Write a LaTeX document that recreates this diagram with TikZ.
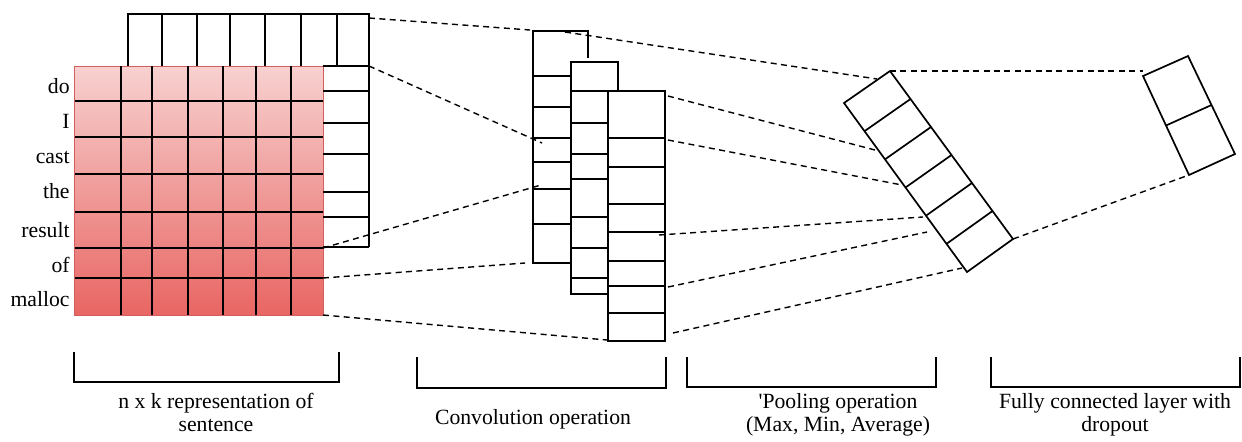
\documentclass[tikz,border=0pt]{standalone}
\usepackage{fontspec}
\setmainfont{Liberation Serif}
\usetikzlibrary{calc}
\definecolor{matTop}{RGB}{247,209,208}
\definecolor{matBot}{RGB}{232,102,99}
\definecolor{matEdge}{RGB}{210,95,92}

\begin{document}
\begin{tikzpicture}[x=0.5pt, y=-0.5pt,
    grid/.style = {line width = 0.85pt},
    link/.style = {dash pattern = on 3pt off 2.2pt, line width = 0.7pt},
    lbl/.style = {font = \fontsize{10.85}{11.5}\selectfont, inner sep = 0pt, align = center}]
    \useasboundingbox (0,0) rectangle (1242,441);
    % sentence matrix
    \coordinate (M) at (74,66);
    \coordinate (N) at (323,315);
    \shade [top color = matTop, bottom color = matBot, draw = matEdge, line width = 0.5pt] (M) rectangle (N);
    \foreach \x in {121,152,188,223,256,291}
        \draw [grid] (\x,66) -- (\x,315);
    \foreach \y in {101,137,174,212,248,278}
        \draw [grid] (75,\y) -- (323,\y);
    \foreach \w/\y in {do/93, I/128, cast/163, the/198, result/237, of/272, malloc/306}
        \node [lbl, anchor = base east] (w-\w) at (70,\y) {\w};
    % filter strips
    \coordinate (topR) at (369,18);
    \coordinate (stripC) at (369,66);
    \draw [grid] (128,66) -- (128,14) -- (369,14) -- (369,247);
    \foreach \x in {162,197,230,265,301,337}
        \draw [grid] (\x,14) -- (\x,66);
    \foreach \y in {66,91,123,154,192,217,247}
        \draw [grid] (323,\y) -- (369,\y);
    % feature maps
    \draw [grid] (588,58) -- (588,31) -- (533,31) -- (533,263) -- (570,263);
    \foreach \y in {76,107,138,162,189,224}
        \draw [grid] (533,\y) -- (570,\y);
    \draw [grid] (618,91) -- (618,62) -- (571,62) -- (571,294) -- (608,294);
    \foreach \y in {91,123,154,179,217,248,278}
        \draw [grid] (571,\y) -- (608,\y);
    \draw [grid] (608,91) rectangle (665,341);
    \foreach \y in {138,167,204,232,261,286,313}
        \draw [grid] (608,\y) -- (665,\y);
    % pooling
    \coordinate (pT) at (890,71);
    \coordinate (pL) at (844,103);
    \coordinate (pB) at (967,272);
    \coordinate (pR) at (1013,239);
    \draw [grid] (pT) -- (pL) -- (pB) -- (pR) -- cycle;
    \foreach \k in {1,...,5}
        \draw [grid] ($(pL)!\k/6!(pB)$) -- ($(pT)!\k/6!(pR)$);
    % fully connected
    \coordinate (fT) at (1188,56);
    \coordinate (fL) at (1143,76);
    \coordinate (fB) at (1189,175);
    \coordinate (fR) at (1235,154);
    \draw [grid] (fT) -- (fL) -- (fB) -- (fR) -- cycle;
    \draw [grid] ($(fL)!.5!(fB)$) -- ($(fT)!.5!(fR)$);
    % dashed links
    \coordinate (rowE) at (323,248);
    \coordinate (rowF) at (323,278);
    \coordinate (cA) at (530,30);
    \coordinate (cB) at (542,143);
    \coordinate (cC) at (541,185);
    \coordinate (cD) at (525,263);
    \coordinate (cE) at (607,340);
    \draw [link] (topR) -- (cA);
    \draw [link] (stripC) -- (cB);
    \draw [link] (rowE) -- (cC);
    \draw [link] (rowF) -- (cD);
    \draw [link] (N) -- (cE);
    \foreach \i/\a/\b/\c/\d in {0/565/32/877/79, 1/668/96/875/150, 2/668/140/902/185,
                                3/659/235/923/217, 4/668/287/927/232, 5/673/333/962/268} {
        \coordinate (m\i) at (\a,\b);
        \coordinate (q\i) at (\c,\d);
        \draw [link] (m\i) -- (q\i);
    }
    \draw [link] (pT) -- (pT -| fL);
    \draw [link] (pR) -- (fB);
    % brackets
    \draw [grid] (74,352) -- (74,382) -- (339,382) -- (339,352);
    \draw [grid] (417,357) -- (417,388) -- (666,388) -- (666,357);
    \draw [grid] (687,357) -- (687,387) -- (936,387) -- (936,357);
    \draw [grid] (991,357) -- (991,387) -- (1240,387) -- (1240,357);
    \node [lbl, anchor = north] (t1) at (216,393) {n x k representation of\\sentence};
    \node [lbl, anchor = base] (t2) at (533,424) {Convolution operation};
    \node [lbl, anchor = north] (t3) at (838,393) {\textquotesingle Pooling operation\\(Max, Min, Average)};
    \node [lbl, anchor = north] (t4) at (1115,393) {Fully connected layer with\\dropout};
\end{tikzpicture}
\end{document}
